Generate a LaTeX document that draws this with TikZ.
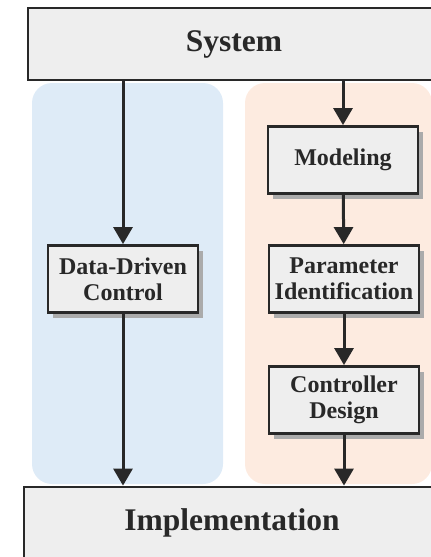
\documentclass[tikz,border=0pt]{standalone}
\usepackage{fontspec}
\setmainfont{Liberation Serif}
\usepackage{tikz}
\usetikzlibrary{arrows.meta,shadows}
\definecolor{panelblue}{RGB}{222,235,247}
\definecolor{panelorange}{RGB}{253,235,224}
\definecolor{boxgray}{RGB}{238,238,238}
\definecolor{inkgray}{RGB}{40,40,40}

\begin{document}
\begin{tikzpicture}[x=1pt,y=-1pt,>={Triangle[width=19pt,length=17pt]},
		block/.style={draw=inkgray,line width=2.8pt,fill=boxgray,text=inkgray,inner sep=0pt},
		stage/.style={block,minimum width=150pt,minimum height=67pt,align=center,
			font=\bfseries\fontsize{24}{26}\selectfont,
			drop shadow={shadow xshift=5pt,shadow yshift=-5pt,fill=black!33,opacity=1}},
		flow/.style={->,draw=inkgray,line width=3pt}]
			\useasboundingbox (0,0) rectangle (431,557);
			\clip (0,0) rectangle (431,557);
			% two routes
			\fill[panelblue,rounded corners=20pt] (32,83) rectangle (223,484);
			\fill[panelorange,rounded corners=20pt] (245,83) rectangle (432,484);
			\node[block,minimum width=412pt,minimum height=72pt,font=\bfseries\fontsize{31.5}{34}\selectfont] (system) at (234,44) {System};
			\node[block,minimum width=416pt,minimum height=72pt,font=\bfseries\fontsize{31.5}{34}\selectfont] (impl) at (232,523) {Implementation};
			\node[stage] (ddc) at (123,279) {Data-Driven\\Control};
			\node[stage] (model) at (343,160) {Modeling};
			\node[stage] (param) at (344,279) {Parameter\\Identification};
			\node[stage] (ctrl) at (344,400) {Controller\\Design};
			\draw[flow] (system.south -| ddc) -- (ddc.north);
			\draw[flow] (ddc.south) -- (impl.north -| ddc);
			\draw[flow] (system.south -| model) -- (model.north);
			\draw[flow] (model) -- (param);
			\draw[flow] (param) -- (ctrl);
			\draw[flow] (ctrl.south) -- (impl.north -| ctrl);
		\end{tikzpicture}
\end{document}
